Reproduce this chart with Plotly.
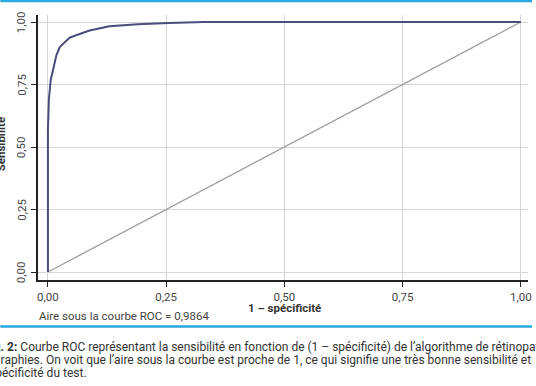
import plotly.graph_objects as go

# ---- data ----
fpr = [0, 0, 0, 0.002, 0.004, 0.006, 0.011, 0.018, 0.025, 0.036, 0.046, 0.067, 0.088,
       0.13, 0.19, 0.256, 0.33, 0.33, 1.0]
tpr = [0, 0.30, 0.57, 0.69, 0.75, 0.77, 0.81, 0.868, 0.90, 0.921, 0.938, 0.952, 0.966,
       0.983, 0.991, 0.996, 0.997, 1.0, 1.0]
ref_x = [0, 1]
ref_y = [0, 1]
tick_vals = [0, 0.25, 0.5, 0.75, 1.0]
tick_text = ["0,00", "0,25", "0,50", "0,75", "1,00"]
auc_label = "Aire sous la courbe ROC = 0,9864"
x_title = "1 – spécificité"
y_title = "Sensibilité"
caption = [
    "<b>Fig. 2:</b> Courbe ROC représentant la sensibilité en fonction de (1 – spécificité) de l’algorithme de rétinopathie",
    "photographies. On voit que l’aire sous la courbe est proche de 1, ce qui signifie une très bonne sensibilité et",
    "spécificité du test.",
]

W, H = 536, 386
L, R, T, B = 38, 4, 15, 106
PW, PH = W - L - R, H - T - B


def px(x):
    return (x - L) / PW


def py(y):
    return (H - B - y) / PH


FONT = "Roboto"
fig = go.Figure()
fig.add_trace(go.Scatter(x=ref_x, y=ref_y, mode="lines",
                         line=dict(color="#9a9fa3", width=1.3), hoverinfo="skip"))
fig.add_trace(go.Scatter(x=fpr, y=tpr, mode="lines",
                         line=dict(color="#4b4b7c", width=2)))

axis_common = dict(
    tickvals=tick_vals, ticktext=tick_text, showgrid=True, gridcolor="#d6d6d6",
    gridwidth=1, zeroline=False, showline=True, linecolor="#222222", linewidth=1.5,
    ticks="outside", ticklen=5, tickcolor="#222222", tickwidth=1.2,
    tickfont=dict(family=FONT, size=11.5, color="#444444"),
)
fig.update_xaxes(range=[-0.021, 1.015], **axis_common)
fig.update_yaxes(range=[-0.032, 1.028], showticklabels=False, **axis_common)

ann = []
# y tick labels (rotated), placed close to the axis as in the reference
for v, t in zip(tick_vals, tick_text):
    ann.append(dict(text=t, x=px(21), y=v, xref="paper", yref="y", showarrow=False,
                    textangle=-90, font=dict(family=FONT, size=11.5, color="#444444"),
                    xanchor="center", yanchor="middle"))
ann += [
    dict(text=f"<b>{x_title}</b>", x=px(287), y=py(308), xref="paper", yref="paper",
         showarrow=False, font=dict(family=FONT, size=11.5, color="#333333"),
         xanchor="center", yanchor="middle"),
    dict(text=f"<b>{y_title}</b>", x=px(1), y=py(144), xref="paper", yref="paper",
         showarrow=False, textangle=-90, font=dict(family=FONT, size=11.5, color="#333333"),
         xanchor="center", yanchor="middle"),
    dict(text=auc_label, x=px(37), y=py(316), xref="paper", yref="paper",
         showarrow=False, font=dict(family=FONT, size=11.5, color="#444444"),
         xanchor="left", yanchor="middle"),
]
cap_x = [-18, -40, -13]
cap_y = [347, 360, 373]
for t, cx, cy in zip(caption, cap_x, cap_y):
    ann.append(dict(text=t, x=px(cx), y=py(cy), xref="paper", yref="paper",
                    showarrow=False, font=dict(family=FONT, size=12, color="#333333"),
                    xanchor="left", yanchor="middle"))

shapes = [
    dict(type="line", xref="paper", yref="paper", x0=px(0), x1=px(W), y0=py(1), y1=py(1),
         line=dict(color="#2aa8dc", width=2.5)),
    dict(type="line", xref="paper", yref="paper", x0=px(0), x1=px(W), y0=py(326.5), y1=py(326.5),
         line=dict(color="#2aa8dc", width=2.5)),
]

fig.update_layout(
    width=W, height=H, margin=dict(l=L, r=R, t=T, b=B),
    plot_bgcolor="white", paper_bgcolor="white", showlegend=False,
    annotations=ann, shapes=shapes,
)
fig.write_html("out.html", config={"displayModeBar": False},
               post_script="document.body.style.margin='0';document.body.style.overflow='hidden';")
